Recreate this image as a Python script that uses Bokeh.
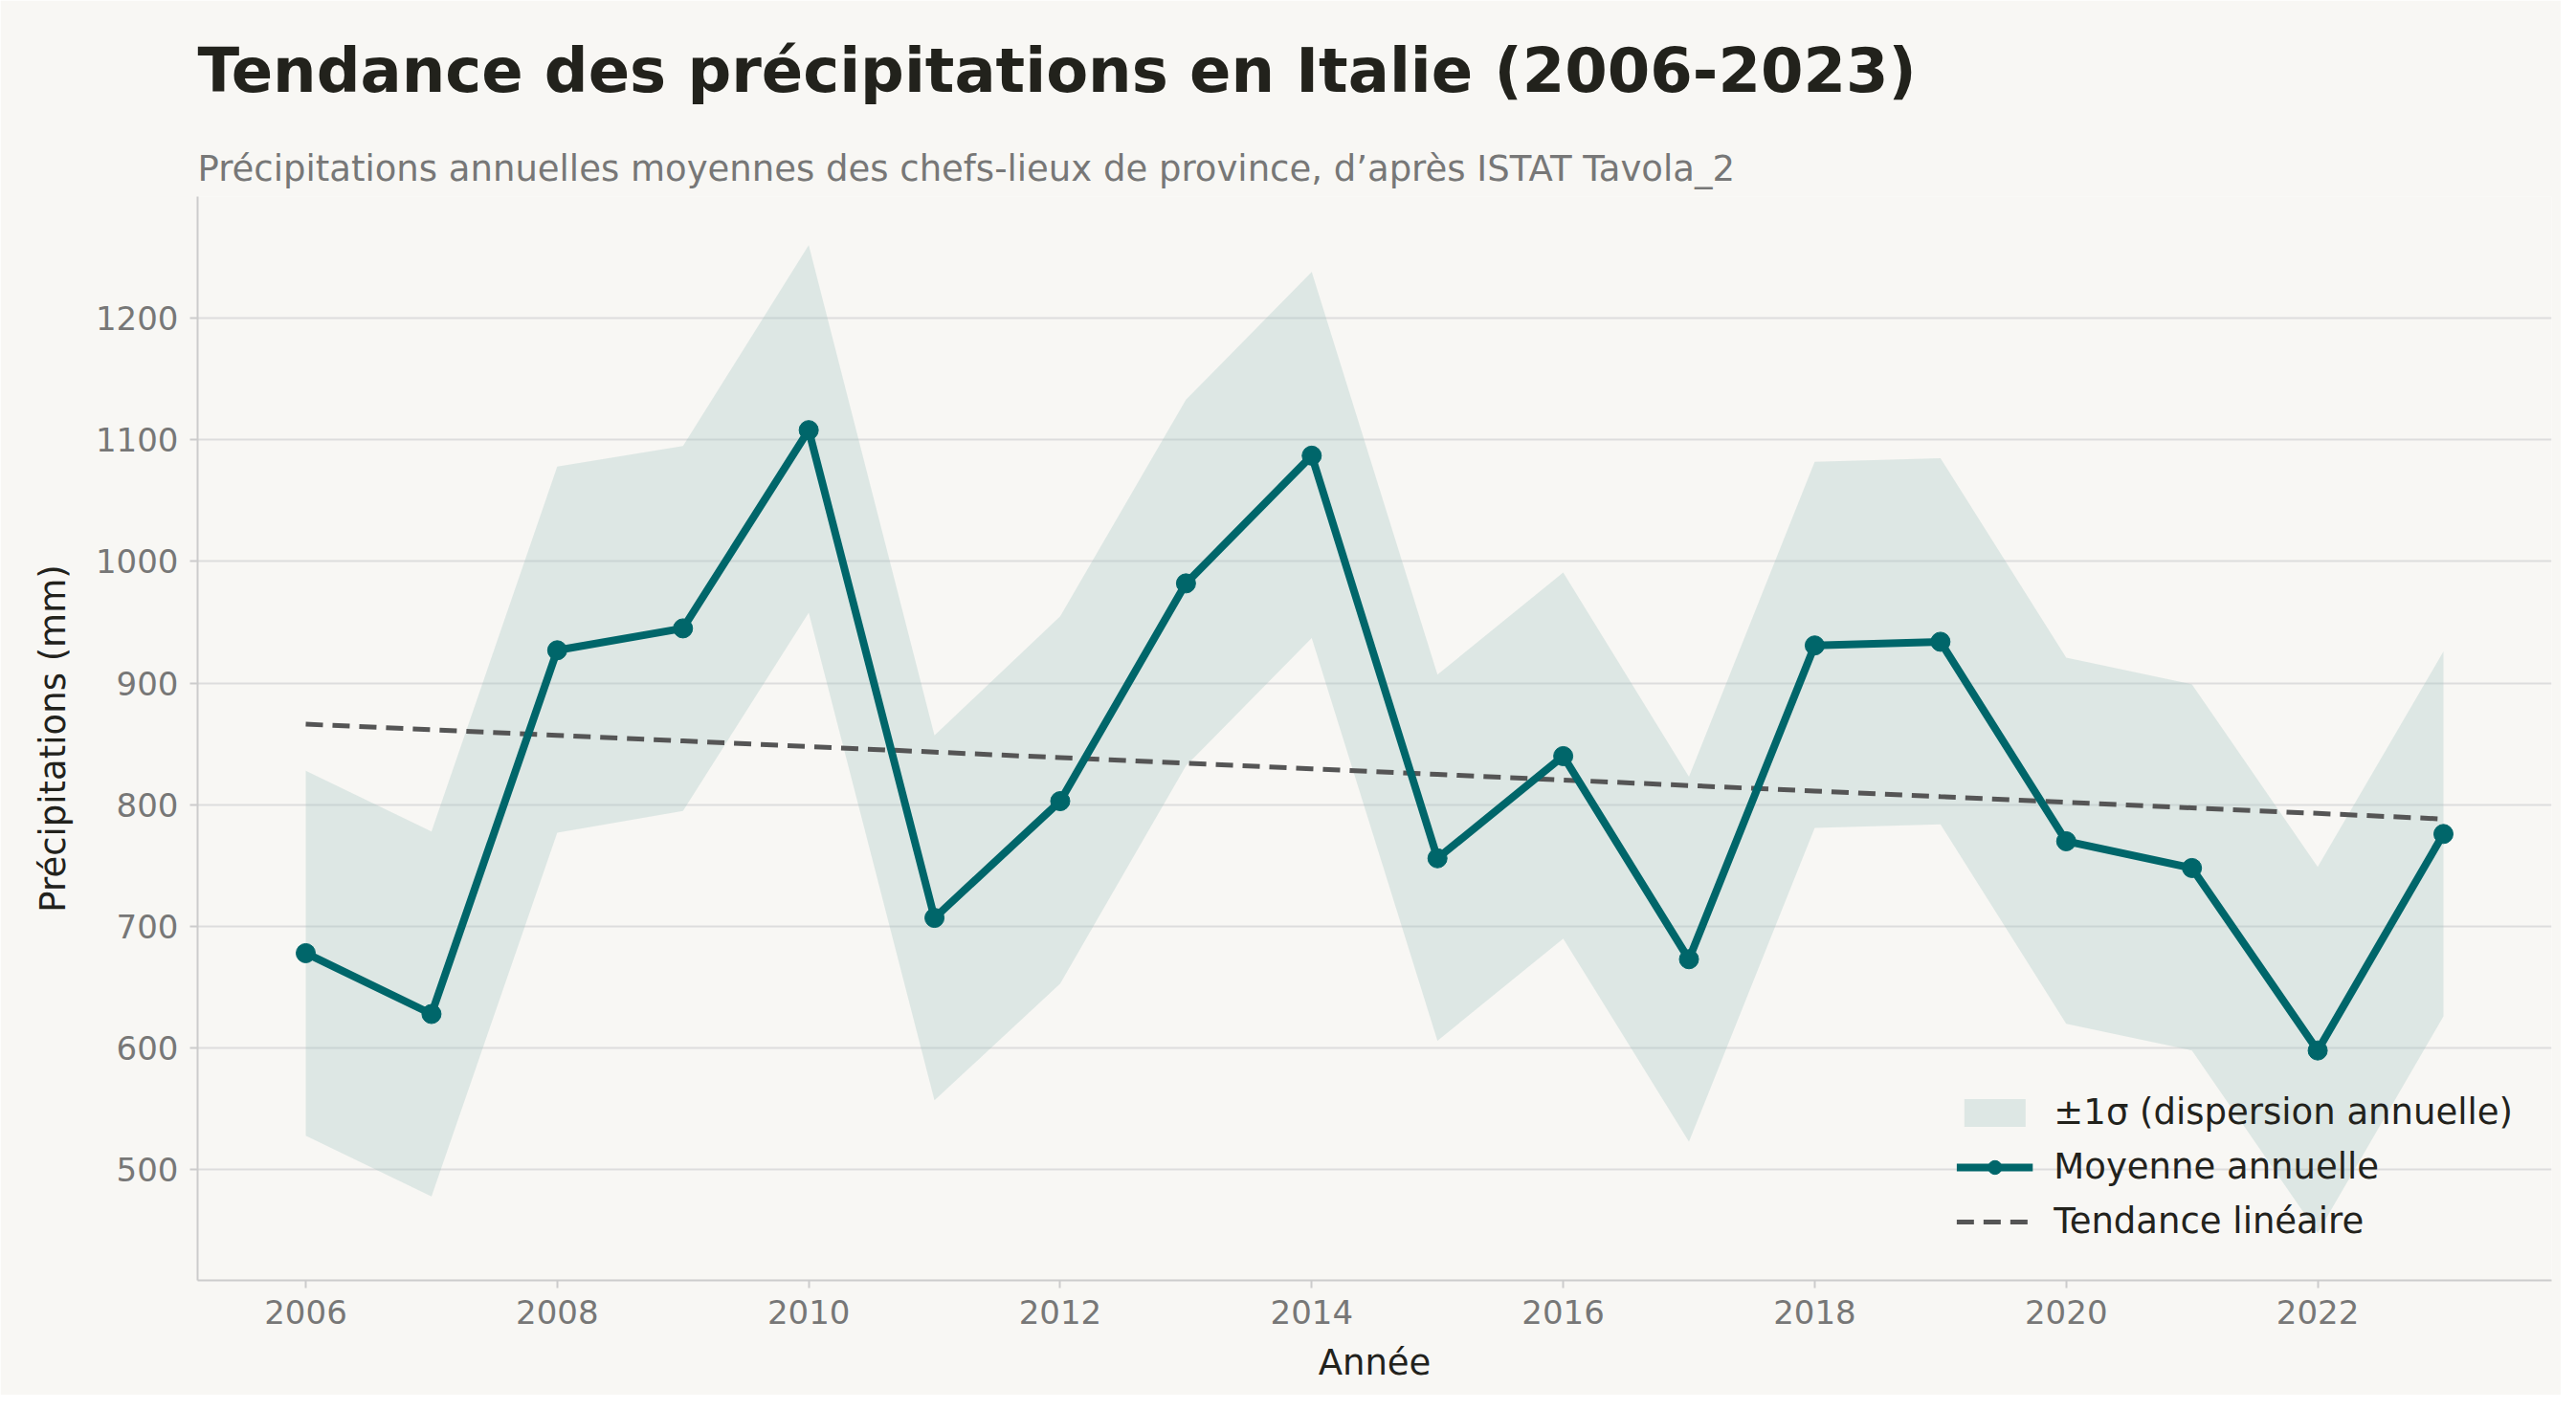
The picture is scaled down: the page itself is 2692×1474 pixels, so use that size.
import numpy as np
from bokeh.plotting import figure
from bokeh.models import Title, Legend, LegendItem, FixedTicker
from bokeh.embed import file_html
from bokeh.resources import INLINE

years = list(range(2006, 2024))
mean = [678, 628, 927, 945, 1108, 707, 803, 982, 1087, 756, 840, 673, 931, 934, 770, 748, 598, 776]
upper = [828, 778, 1078, 1095, 1260, 857, 955, 1133, 1238, 907, 991, 823, 1082, 1085, 921, 899, 749, 926]
lower = [528, 478, 777, 795, 958, 557, 653, 832, 937, 606, 690, 523, 781, 784, 620, 598, 448, 626]

coef = np.polyfit(years, mean, 1)
trend = list(np.polyval(coef, years))

bg = "#f8f7f4"
p = figure(width=2676, height=1458, output_backend="svg", toolbar_location=None,
           x_range=(2005.14, 2023.86), y_range=(409, 1300),
           background_fill_color=bg, border_fill_color=bg,
           min_border_left=206, min_border_right=10, min_border_top=10, min_border_bottom=120)

p.add_layout(Title(text="Précipitations annuelles moyennes des chefs-lieux de province, d’après ISTAT Tavola_2",
                   text_font_size="37px", text_font_style="normal", text_color="#777777",
                   text_font="DejaVu Sans", offset=0, standoff=16), "above")
p.add_layout(Title(text="Tendance des précipitations en Italie (2006-2023)",
                   text_font_size="64px", text_font_style="bold", text_color="#22221c",
                   text_font="DejaVu Sans", offset=0, standoff=68), "above")

band = p.varea(x=years, y1=lower, y2=upper, fill_color="#9fc4c0", fill_alpha=0.3)
tr = p.line(years, trend, line_color="#555555", line_width=5, line_dash="18 10")
ln = p.line(years, mean, line_color="#00666a", line_width=8)
sc = p.scatter(years, mean, size=20, fill_color="#00666a", line_color="#00666a")

leg = Legend(items=[LegendItem(label="±1σ (dispersion annuelle)", renderers=[band]),
                    LegendItem(label="Moyenne annuelle", renderers=[ln, sc]),
                    LegendItem(label="Tendance linéaire", renderers=[tr])],
             location="bottom_right", background_fill_alpha=0, border_line_alpha=0,
             label_text_font_size="37px", label_text_font="DejaVu Sans", label_text_color="#22221c",
             glyph_width=80, glyph_height=36, spacing=14, margin=30, label_standoff=22)
p.add_layout(leg)

p.xaxis.ticker = FixedTicker(ticks=list(range(2006, 2024, 2)))
p.yaxis.ticker = FixedTicker(ticks=list(range(500, 1300, 100)))
for ax in (p.xaxis[0], p.yaxis[0]):
    ax.major_label_text_font_size = "34px"
    ax.major_label_text_color = "#777777"
    ax.major_label_text_font = "DejaVu Sans"
    ax.axis_label_text_font_size = "37px"
    ax.axis_label_text_font = "DejaVu Sans"
    ax.axis_label_text_font_style = "normal"
    ax.axis_label_text_color = "#22221c"
    ax.axis_line_color = "#cccccc"
    ax.axis_line_width = 2
    ax.major_tick_line_color = "#cccccc"
    ax.major_tick_line_width = 2
    ax.minor_tick_line_color = None
    ax.major_tick_out = 8
    ax.major_tick_in = 0
    ax.major_label_standoff = 12
p.xaxis.axis_label = "Année"
p.yaxis.axis_label = "Précipitations (mm)"
p.yaxis.axis_label_standoff = 20
p.xaxis.axis_label_standoff = 16
p.xgrid.grid_line_color = None
p.ygrid.grid_line_color = "#dddddd"
p.ygrid.grid_line_width = 2
p.outline_line_color = None

open("out.html", "w").write(file_html(p, INLINE))
